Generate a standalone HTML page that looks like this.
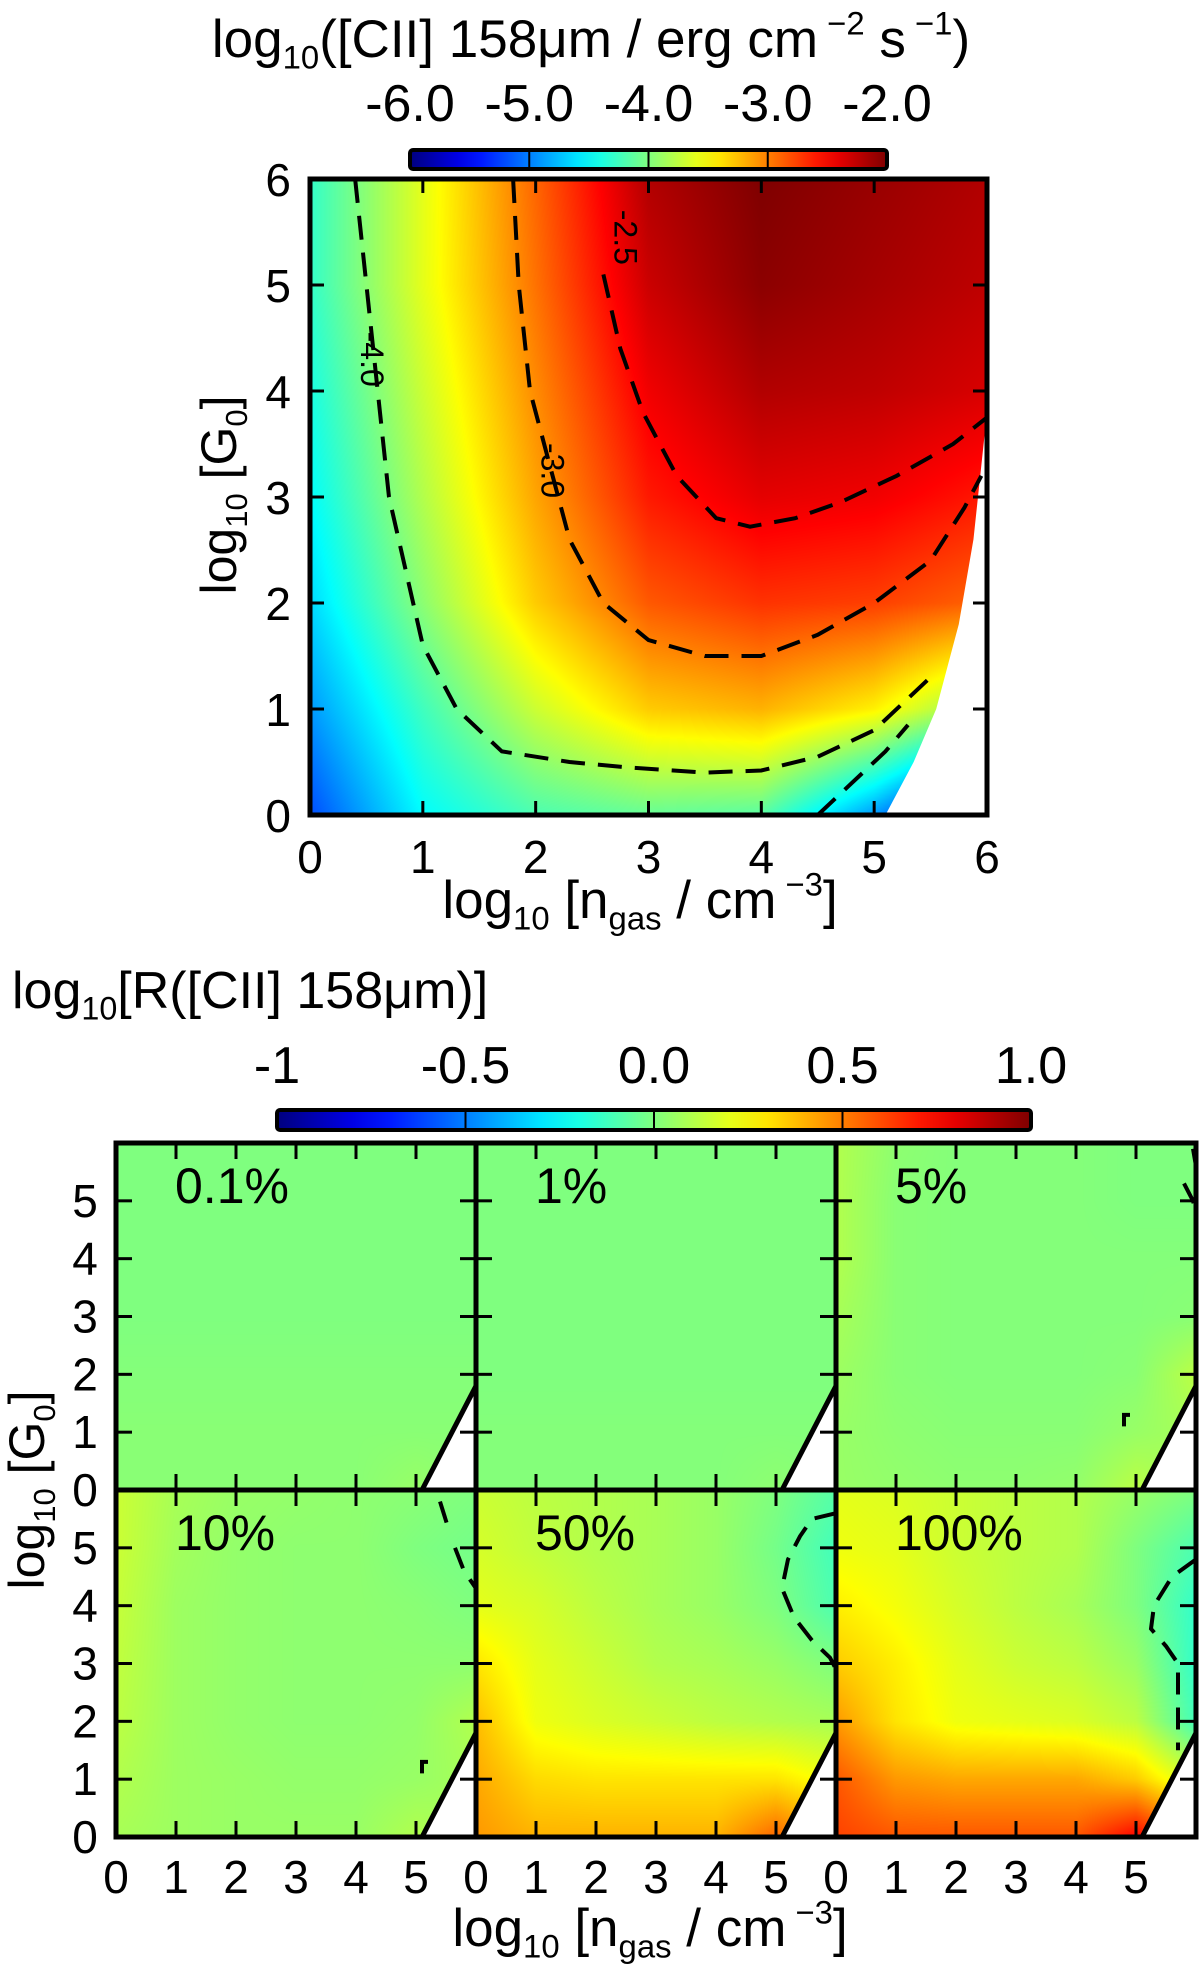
<!DOCTYPE html>
<html><head><meta charset="utf-8">
<style>
html,body{margin:0;padding:0;background:#fff;}
#wrap{position:relative;width:1200px;height:1970px;overflow:hidden;background:#fff;}
canvas{position:absolute;}
svg{position:absolute;left:0;top:0;}
text{font-family:"Liberation Sans",Arial,sans-serif;fill:#000;}
</style></head>
<body>
<div id="wrap">
<canvas id="cTop"></canvas>
<svg id="ov" width="1200" height="1970"></svg>
</div>
<script>
// ---------- DATA: top panel (log10 [CII] flux), rows G=0..6, cols n=0..6 ----------
const nTicks = [0,1,2,3,4,5,6];
const gTicks = [0,1,2,3,4,5,6];
const topCbTicks = [-6,-5,-4,-3,-2];
const topCbLabels = ["-6.0","-5.0","-4.0","-3.0","-2.0"];
const fluxG0 = [-5.2,-4.5,-4.2,-4.1,-4.15,-4.9,-5.9];
const fluxG1 = [-4.9,-4.25,-3.7,-3.3,-3.2,-3.45,-4.0];
const fluxG2 = [-4.65,-3.95,-3.3,-2.85,-2.7,-2.75,-2.9];
const fluxG3 = [-4.5,-3.8,-3.15,-2.6,-2.4,-2.45,-2.6];
const fluxG4 = [-4.4,-3.7,-3.05,-2.45,-2.2,-2.25,-2.35];
const fluxG5 = [-4.3,-3.6,-2.95,-2.3,-2.05,-2.15,-2.25];
const fluxG6 = [-4.3,-3.6,-2.9,-2.2,-2.0,-2.1,-2.2];
const topMaskN = [5.1,5.35,5.55,5.75,5.88,5.95,6.0];
const topMaskG = [0,0.5,1,1.8,2.6,3.3,3.8];
const contM40n = [0.4,0.5,0.6,0.7,0.85,1.0,1.3,1.7,2.3,2.8,3.5,4.0,4.5,5.0,5.5];
const contM40g = [6,5,4,3,2.3,1.6,1.0,0.6,0.5,0.45,0.4,0.42,0.55,0.8,1.3];
const contM30n = [1.8,1.85,1.95,2.1,2.3,2.6,3.0,3.5,4.0,4.5,5.0,5.5,5.8,5.95];
const contM30g = [6,5,4,3.4,2.6,2.0,1.65,1.5,1.5,1.7,2.0,2.4,2.9,3.2];
const contM25n = [2.6,2.75,2.95,3.25,3.6,3.9,4.3,4.7,5.2,5.7,6.0];
const contM25g = [5.1,4.4,3.8,3.2,2.8,2.72,2.8,2.95,3.2,3.5,3.75];
const contM40bn = [4.5,4.8,5.1,5.3];
const contM40bg = [0,0.3,0.6,0.85];

// ---------- DATA: ratio panels (log10 R), rows G=0..6 ----------
const botCbTicks = [-1,-0.5,0,0.5,1.0];
const botCbLabels = ["-1","-0.5","0.0","0.5","1.0"];
const panelNames = ["0.1%","1%","5%","10%","50%","100%"];
const r01 = [[0.02,0.02,0.02,0.02,0.02,0.05,0.02],[0.02,0.02,0.02,0.02,0.02,0.02,0.02],[0.01,0.01,0.01,0.01,0.01,0.01,0.01],[0,0,0,0,0,0,0],[0,0,0,0,0,0,0],[0,0,0,0,0,0,0],[0,0,0,0,0,0,0]];
const r1 = [[0.01,0.01,0.01,0.01,0.01,0.03,0.01],[0.01,0.01,0.01,0.01,0.01,0.01,0.01],[0,0,0,0,0,0,0],[0,0,0,0,0,0,0],[0,0,0,0,0,0,0],[0,0,0,0,0,0,0],[0,0,0,0,0,0,0]];
const r5 = [[0.05,0.04,0.03,0.03,0.04,0.12,0.05],[0.05,0.03,0.02,0.02,0.02,0.05,0.08],[0.06,0.02,0.01,0.01,0.01,0.02,0.12],[0.08,0.02,0.01,0.01,0.01,0.01,0.02],[0.1,0.02,0.01,0.01,0.01,0.01,0.01],[0.1,0.02,0.01,0.01,0.01,0.0,0.0],[0.1,0.03,0.01,0.01,0.01,0.0,0.0]];
const r10 = [[0.08,0.06,0.05,0.05,0.05,0.1,0.06],[0.1,0.06,0.05,0.04,0.04,0.05,0.08],[0.12,0.06,0.04,0.03,0.03,0.04,0.1],[0.13,0.06,0.04,0.03,0.03,0.03,0.03],[0.14,0.06,0.04,0.03,0.03,0.02,0.0],[0.15,0.07,0.04,0.03,0.03,0.0,-0.02],[0.15,0.08,0.05,0.04,0.03,0.02,0.0]];
const r50 = [[0.45,0.4,0.4,0.4,0.4,0.55,0.4],[0.42,0.32,0.3,0.3,0.3,0.3,0.22],[0.38,0.22,0.18,0.15,0.12,0.1,0.08],[0.3,0.2,0.15,0.1,0.08,0.05,0.0],[0.2,0.17,0.12,0.08,0.05,0.0,-0.1],[0.17,0.13,0.1,0.08,0.05,-0.02,-0.12],[0.15,0.12,0.1,0.08,0.05,0.0,-0.08]];
const r100 = [[0.62,0.58,0.58,0.58,0.58,0.75,0.5],[0.58,0.45,0.42,0.42,0.42,0.35,0.15],[0.45,0.3,0.22,0.2,0.18,0.12,-0.12],[0.35,0.28,0.2,0.15,0.12,0.05,-0.15],[0.28,0.23,0.17,0.12,0.08,0.0,-0.15],[0.22,0.2,0.15,0.12,0.1,0.0,-0.1],[0.2,0.18,0.15,0.12,0.1,0.05,0.0]];
const panelGrids = [r01,r1,r5,r10,r50,r100];
const panelCont = [
  [],
  [],
  [[[5.95,5.9],[6.0,5.6]],[[5.8,5.3],[5.95,5.0],[6.0,4.8]],[[4.8,1.1],[4.8,1.3],[4.9,1.3]]],
  [[[5.4,5.8],[5.55,5.3]],[[5.65,5.0],[5.8,4.6],[6.0,4.3]],[[5.1,1.1],[5.1,1.3],[5.2,1.3]]],
  [[[6.0,5.6],[5.6,5.5],[5.4,5.2],[5.2,4.8],[5.1,4.3],[5.3,3.8],[5.6,3.4],[5.9,3.1],[6.0,2.9]]],
  [[[6.0,4.8],[5.6,4.5],[5.3,4.0],[5.25,3.6],[5.5,3.3],[5.7,3.0],[5.7,2.3],[5.7,1.5]]]
];
const botMaskN = [5.1,6.0,6.0];
const botMaskG = [0,1.8,0];

// ---------- helpers ----------
function jet(t){
  t=Math.max(0,Math.min(1,t));
  const cl=v=>Math.max(0,Math.min(1,v));
  const r=cl(Math.min(4*t-1.5,-4*t+4.5));
  const g=cl(Math.min(4*t-0.5,-4*t+3.5));
  const b=cl(Math.min(4*t+0.5,-4*t+2.5));
  return [r*255|0,g*255|0,b*255|0];
}
const SVGNS="http://www.w3.org/2000/svg";
const ov=document.getElementById('ov');
function el(tag,attrs,parent){const e=document.createElementNS(SVGNS,tag);for(const k in attrs)e.setAttribute(k,attrs[k]);(parent||ov).appendChild(e);return e;}
function sample(grid,n,g){
  const nx=Math.max(0,Math.min(5.9999,n)), gy=Math.max(0,Math.min(5.9999,g));
  const i=Math.floor(nx), j=Math.floor(gy), fx=nx-i, fy=gy-j;
  const a=grid[j][i],b=grid[j][i+1],c=grid[j+1][i],d=grid[j+1][i+1];
  return a*(1-fx)*(1-fy)+b*fx*(1-fy)+c*(1-fx)*fy+d*fx*fy;
}
function paintHeat(ctx,x0,y0,w,h,grid,vmin,vmax){
  const img=ctx.createImageData(w,h);
  for(let py=0;py<h;py++){
    const g=6*(1-(py+0.5)/h);
    for(let px=0;px<w;px++){
      const n=6*(px+0.5)/w;
      const v=sample(grid,n,g);
      const c=jet((v-vmin)/(vmax-vmin));
      const k=(py*w+px)*4;
      img.data[k]=c[0];img.data[k+1]=c[1];img.data[k+2]=c[2];img.data[k+3]=255;
    }
  }
  ctx.putImageData(img,x0,y0);
}
function label(x,y,str,size,anchor,name){
  const t=el('text',{x:x,y:y,'font-size':size,'text-anchor':anchor||'middle'});
  t.textContent=str;
  
  
  return t;
}

// ---------- top panel ----------
const TL=310,TR=987,TT=179,TB=815;
const tx=n=>TL+(TR-TL)*n/6, ty=g=>TB-(TB-TT)*g/6;
const cTop=document.getElementById('cTop');
cTop.width=1200;cTop.height=1970;cTop.style.left='0px';cTop.style.top='0px';
const ctx=cTop.getContext('2d');
const fluxGrid=[fluxG0,fluxG1,fluxG2,fluxG3,fluxG4,fluxG5,fluxG6];
paintHeat(ctx,TL,TT,TR-TL,TB-TT,fluxGrid,-6,-2);
{
  const pts=topMaskN.map((n,i)=>tx(n)+','+ty(topMaskG[i])).join(' ')+' '+tx(6)+','+ty(0);
  const m=el('polygon',{points:pts,fill:'#fff'});
  
  
}
function dashed(ns,gs,xf,yf,name,w){
  const p=el('polyline',{points:ns.map((n,i)=>xf(n)+','+yf(gs[i])).join(' '),fill:'none',stroke:'#000','stroke-width':w||4,'stroke-dasharray':'24,13'});
  
  
}
dashed(contM40n,contM40g,tx,ty,'contour-minus-4');
dashed(contM30n,contM30g,tx,ty,'contour-minus-3');
dashed(contM25n,contM25g,tx,ty,'contour-minus-2-5');
dashed(contM40bn,contM40bg,tx,ty,'contour-minus-4-low');
function rlabel(n,g,str,name){
  const t=el('text',{x:0,y:0,'font-size':32,'text-anchor':'middle',transform:`translate(${tx(n)},${ty(g)}) rotate(90)`});
  t.textContent=str;
  
  
}
rlabel(0.45,4.3,'-4.0','contour-label-minus-4');
rlabel(2.05,3.25,'-3.0','contour-label-minus-3');
rlabel(2.7,5.45,'-2.5','contour-label-minus-2-5');
{
  const f=el('rect',{x:TL,y:TT,width:TR-TL,height:TB-TT,fill:'none',stroke:'#000','stroke-width':5});
  
  
  nTicks.forEach(n=>{
    if(n>0&&n<6){el('line',{x1:tx(n),x2:tx(n),y1:TB,y2:TB-14,stroke:'#000','stroke-width':3});
    el('line',{x1:tx(n),x2:tx(n),y1:TT,y2:TT+14,stroke:'#000','stroke-width':3});}
    label(tx(n),873,String(n),46,'middle','x-tick-label');
  });
  gTicks.forEach(g=>{
    if(g>0&&g<6){el('line',{x1:TL,x2:TL+14,y1:ty(g),y2:ty(g),stroke:'#000','stroke-width':3});
    el('line',{x1:TR,x2:TR-14,y1:ty(g),y2:ty(g),stroke:'#000','stroke-width':3});}
    label(291,ty(g)+17,String(g),46,'end','y-tick-label');
  });
}
function richTitle(x,y,parts,size,anchor,name,rot){
  const t=el('text',{x:x,y:y,'font-size':size,'text-anchor':anchor});
  if(rot) t.setAttribute('transform',`rotate(-90 ${x} ${y})`);
  parts.forEach(p=>{
    const s=el('tspan',{},t);
    if(p[1]==='sub'){s.setAttribute('font-size',size*0.62);s.setAttribute('dy',size*0.22);}
    if(p[1]==='sup'){s.setAttribute('font-size',size*0.62);s.setAttribute('dy',-size*0.42);}
    if(p[1]==='back'){s.setAttribute('dy',size*0.42);}
    if(p[1]==='backsub'){s.setAttribute('dy',-size*0.22);}
    s.textContent=p[0];
  });
  
  
  return t;
}
richTitle(591,57,[["log"],["10",'sub'],["([CII] 158μm / erg cm",'backsub'],[" −2",'sup'],[" s",'back'],[" −1",'sup'],[")",'back']],53,'middle','colorbar-title-top');
richTitle(640,918,[["log"],["10",'sub'],[" [n",'backsub'],["gas",'sub'],[" / cm",'backsub'],[" −3",'sup'],["]",'back']],53,'middle','x-axis-title-top');
richTitle(236,495,[["log"],["10",'sub'],[" [G",'backsub'],["0",'sub'],["]",'backsub']],50,'middle','y-axis-title-top',true);
function colorbar(x0,x1,y0,y1,vmin,vmax,ticks,labels,labY,name){
  const g=el('g',{});
  
  
  const id=name+'-grad';
  const defs=el('defs',{},g);
  const lg=el('linearGradient',{id:id,x1:0,x2:1,y1:0,y2:0},defs);
  for(let i=0;i<=20;i++){const c=jet(i/20);el('stop',{offset:(i/20),'stop-color':`rgb(${c})`},lg);}
  el('rect',{x:x0,y:y0,width:x1-x0,height:y1-y0,fill:`url(#${id})`,stroke:'#000','stroke-width':4,rx:3},g);
  const sx=v=>x0+(x1-x0)*(v-vmin)/(vmax-vmin);
  ticks.forEach((v,i)=>{
    if(v>vmin&&v<vmax) el('line',{x1:sx(v),x2:sx(v),y1:y0,y2:y1,stroke:'#000','stroke-width':2},g);
    const t=el('text',{x:sx(v),y:labY,'font-size':52,'text-anchor':'middle'},g);
    t.textContent=labels[i];
  });
}
colorbar(410,887,150,169,-6,-2,topCbTicks,topCbLabels,121,'colorbar-top');

// ---------- bottom panels ----------
const PL=116,PW=360,PT=1143,PH=347;
panelGrids.forEach((grid,k)=>{
  const col=k%3,row=Math.floor(k/3);
  const x0=PL+col*PW,y0=PT+row*PH;
  paintHeat(ctx,x0,y0,PW,PH,grid,-1,1);
  const px=n=>x0+PW*n/6, py=g=>y0+PH-PH*g/6;
  const m=el('polygon',{points:botMaskN.map((n,i)=>px(n)+','+py(botMaskG[i])).join(' '),fill:'#fff'});
  
  
  const e=el('line',{x1:px(botMaskN[0]),y1:py(botMaskG[0]),x2:px(botMaskN[1]),y2:py(botMaskG[1]),stroke:'#000','stroke-width':5});
  
  
  panelCont[k].forEach(seg=>{
    const p=el('polyline',{points:seg.map(q=>px(q[0])+','+py(q[1])).join(' '),fill:'none',stroke:'#000','stroke-width':4,'stroke-dasharray':'22,13'});
    
    
  });
  const fr=el('rect',{x:x0,y:y0,width:PW,height:PH,fill:'none',stroke:'#000','stroke-width':5});
  
  
  for(let n=1;n<=5;n++){
    el('line',{x1:px(n),x2:px(n),y1:y0+PH,y2:y0+PH-16,stroke:'#000','stroke-width':3});
    el('line',{x1:px(n),x2:px(n),y1:y0,y2:y0+16,stroke:'#000','stroke-width':3});
  }
  for(let g=1;g<=5;g++){
    el('line',{x1:x0,x2:x0+16,y1:py(g),y2:py(g),stroke:'#000','stroke-width':3});
    el('line',{x1:x0+PW,x2:x0+PW-16,y1:py(g),y2:py(g),stroke:'#000','stroke-width':3});
  }
  label(x0+59,y0+60,panelNames[k],50,'start','panel-label');
  if(col===0){for(let g=0;g<=5;g++) label(85,py(g)+16,String(g),46,'middle','y-tick-label');}
  if(row===1){for(let n=0;n<=5;n++) label(px(n),1893,String(n),46,'middle','x-tick-label');}
});
richTitle(12,1008,[["log"],["10",'sub'],["[R([CII] 158μm)]",'backsub']],52,'start','colorbar-title-bottom');
colorbar(277,1031,1110,1130,-1,1,botCbTicks,botCbLabels,1083,'colorbar-bottom');
richTitle(650,1946,[["log"],["10",'sub'],[" [n",'backsub'],["gas",'sub'],[" / cm",'backsub'],[" −3",'sup'],["]",'back']],53,'middle','x-axis-title-bottom');
richTitle(44,1490,[["log"],["10",'sub'],[" [G",'backsub'],["0",'sub'],["]",'backsub']],50,'middle','y-axis-title-bottom',true);
</script>
</body></html>
